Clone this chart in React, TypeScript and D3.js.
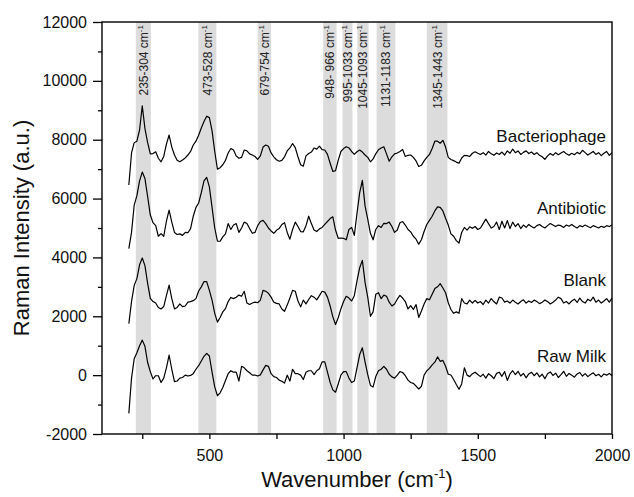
import React, { useEffect, useRef } from "react";
import * as d3 from "d3";

// wavenumber grid (cm-1), one value every 10 cm-1
const wavenumbers = d3.range(200, 2001, 10);

const bacteriophage = [
  6460, 7550, 7900, 7950, 8330, 9150, 8380, 7900, 7520, 7530,
  7590, 7370, 7250, 7430, 7850, 8160, 7750, 7480, 7300, 7250,
  7310, 7380, 7480, 7600, 7820, 7950, 8150, 8400, 8620, 8800,
  8750, 8300, 7600, 7000, 7050, 7150, 7300, 7550, 7700, 7650,
  7450, 7370, 7400, 7650, 7620, 7520, 7480, 7430, 7330, 7450,
  7750, 7820, 7780, 7550, 7420, 7320, 7270, 7300, 7420, 7620,
  7720, 7870, 7730, 7420, 7150, 7100, 7450, 7530, 7580, 7720,
  7680, 7780, 7660, 7650, 7500, 7200, 6920, 6950, 7300, 7600,
  7700, 7760, 7720, 7600, 7500, 7590, 7650, 7580, 7480, 7400,
  7250, 7350, 7520, 7660, 7720, 7760, 7520, 7270, 7420, 7520,
  7550, 7600, 7670, 7430, 7470, 7480, 7400, 7280, 7090, 7130,
  7280, 7400, 7500, 7700, 7950, 7950, 7880, 7980, 7750, 7400,
  7330, 7290, 7240, 7200, 7380, 7470, 7460, 7430, 7540, 7590,
  7540, 7500, 7560, 7480, 7600, 7520, 7470, 7550, 7500, 7580,
  7480, 7620, 7540, 7680, 7560, 7620, 7500, 7570, 7620, 7530,
  7580, 7500, 7560, 7470, 7420, 7330, 7450, 7530, 7470, 7560,
  7490, 7550, 7600, 7520, 7470, 7540, 7490, 7570, 7520, 7640,
  7560, 7480, 7540, 7600, 7500, 7560, 7460, 7540, 7600, 7470,
  7560,
];

const antibiotic = [
  4300, 4850, 5780, 6100, 6600, 6900, 6680, 6070, 5440, 5180,
  5080, 4720, 4810, 4720, 5230, 5610, 5200, 4850, 4780, 4800,
  4750, 4850, 4840, 4980, 5400, 5700, 5850, 6200, 6600, 6720,
  6400, 5700, 5000, 4550, 4550, 4700, 4800, 5150, 4950, 5100,
  5150, 4850, 5000, 5200, 5150, 4980, 4820, 4850, 5080, 5220,
  5260, 5150, 5000, 4900, 4820, 4920, 4980, 5120, 5180, 4850,
  4620, 4950, 5200, 5050, 4880, 4870, 5080, 5400, 5150, 4930,
  4880, 4970, 5020, 5120, 5220, 5320, 5380, 4930, 4650, 4660,
  4650, 4600, 4950, 5020, 4750, 5500, 6200, 6620, 5750, 5300,
  4820, 4600, 4950, 5080, 5020, 5160, 5150, 5200, 5050, 4850,
  4930, 5180, 5220, 5100, 4950, 4870, 4720, 4620, 4450, 4600,
  4880, 5120, 5260, 5400, 5580, 5720, 5700, 5580, 5330, 5100,
  4800, 4720, 4570, 4490, 4850, 5020, 4930, 5040, 4990, 5050,
  4950, 5000, 5150, 5300, 5150, 5000, 5050, 5200, 4950, 5230,
  5000, 5250, 4980, 5200, 5050, 5150, 4980, 5100, 5020, 5120,
  5050, 5000, 5080, 5120, 5050, 5000, 5080, 5150, 5100, 5050,
  5100, 5080, 5020, 5100, 5060, 5120, 5050, 5000, 5080, 5040,
  5100, 5050, 5010, 5080, 5040, 5000, 5060, 5020, 5080, 5050,
  5100,
];

const blank = [
  1750, 2500, 3050, 3280, 3750, 3980, 3720, 3120, 2610, 2500,
  2450, 2300, 2250, 2330, 2700, 3060, 2600, 2250, 2300, 2420,
  2330, 2350, 2480, 2500, 2530, 2600, 2860, 3000, 3180, 3180,
  2880, 2550, 2100, 1800, 1960, 2150, 2260, 2500, 2640, 2600,
  2650, 2720, 2680, 2850, 2450, 2400, 2450, 2480, 2460, 2550,
  2880, 2850, 2780, 2650, 2480, 2440, 2420, 2250, 2170, 2380,
  2620, 2880, 2850, 2520, 2320, 2550, 2420, 2570, 2700, 2650,
  2560, 2700, 2850, 2820, 2650, 2350, 1980, 1720, 1950, 2250,
  2500, 2680, 2620, 2520, 2700, 3200, 3650, 3900, 3150, 2650,
  2000, 2150, 2750, 2800, 2600, 2720, 2680, 2480, 2350, 2420,
  2580, 2710, 2620, 2500, 2250, 2360, 2230, 2400, 1960, 2180,
  2420, 2600, 2560, 2750, 2940, 3000, 3110, 2960, 2800, 2460,
  2230, 2100, 2150, 2100, 2600, 2450, 2420, 2550, 2450, 2540,
  2450, 2500, 2400, 2550, 2450, 2600, 2500, 2420, 2650, 2620,
  2480, 2520, 2450, 2550, 2480, 2420, 2500, 2560, 2450, 2520,
  2470, 2550, 2500, 2430, 2480, 2550, 2500, 2420, 2480, 2550,
  2650, 2600, 2450, 2500, 2420, 2520, 2580, 2470, 2620, 2500,
  2450, 2580, 2520, 2650, 2480, 2550, 2450, 2520, 2600, 2480,
  2620,
];

const rawMilk = [
  -1300, -100, 560, 760, 1000, 1190, 980, 430, 120, -130,
  -20, -20, -250, -100, 250, 680, 200, -220, -200, -100,
  -80, 0, -30, -10, 50, 200, 320, 480, 640, 740,
  650, 100, -400, -700, -600, -420, -180, 50, 150, 100,
  100, -200, 300, 250, 150, 80, 0, 5, -30, 10,
  180, 330, 300, 50, -50, -80, -170, -210, -270, 0,
  -200, 200, 50, 50, 0, -150, 100, 150, 150, 20,
  150, 220, 450, 450, 100, -250, -500, -580, -300, 0,
  120, 120, -100, -250, -200, 250, 700, 930, 450, 20,
  -350, -400, -50, 150, 200, 300, 200, 30, -60, -100,
  0, 120, 90, -20, -170, -250, -280, -370, -470, -380,
  0, 150, 230, 350, 440, 620, 470, 500, 300, 30,
  5, -150, -320, -480, -300, 250, 0, -50, 50, 100,
  20, -50, 30, -100, 50, -20, -120, 60, 100, -40,
  120, -180, 40, 150, 20, 130, -30, 60, -90, 40,
  100, -20, 80, -60, 30, -120, 50, 110, -10, 70,
  -80, 20, 130, -40, 60, 0, -70, 40, 90, -30,
  50, -50, 20, 80, -20, 30, -60, 40, 0, 60,
  -20,
];

const seriesNames = ["Bacteriophage", "Antibiotic", "Blank", "Raw Milk"];
const seriesValues = [bacteriophage, antibiotic, blank, rawMilk];

// shaded bands (cm-1) and their labels
const bandStart = [226, 459, 680, 924, 996, 1051, 1123, 1310];
const bandEnd = [282, 526, 730, 974, 1033, 1093, 1193, 1387];
const bandLabels = [
  "235-304 cm",
  "473-528 cm",
  "679-754 cm",
  "948- 966 cm",
  "995-1033 cm",
  "1045-1093 cm",
  "1131-1183 cm",
  "1345-1443 cm",
];

const yMajorTicks = [-2000, 0, 2000, 4000, 6000, 8000, 10000, 12000];
const yMinorTicks = [-1000, 1000, 3000, 5000, 7000, 9000, 11000];
const xMajorTicks = [500, 1000, 1500, 2000];
const xMinorTicks = [250, 750, 1250, 1750];

// label heights (data units) for the series names
const labelLevels = [7920, 5480, 3030, 460];

const FONT = "'Liberation Sans', Arial, Helvetica, sans-serif";

const RamanChart = () => {
  const svgRef = useRef<SVGSVGElement>(null);

  useEffect(() => {
    const width = 634;
    const height = 497;
    const margin = { top: 22, right: 22, bottom: 63, left: 102 };
    const innerWidth = width - margin.left - margin.right;
    const innerHeight = height - margin.top - margin.bottom;

    const svg = d3.select(svgRef.current);
    svg.selectAll("*").remove();
    svg.attr("width", width).attr("height", height);

    svg.append("rect").attr("width", width).attr("height", height).attr("fill", "#fff");

    const x = d3.scaleLinear().domain([100, 2000]).range([0, innerWidth]);
    const y = d3.scaleLinear().domain([-2000, 12000]).range([innerHeight, 0]);

    const g = svg
      .append("g")
      .attr("transform", `translate(${margin.left},${margin.top})`);

    // Bands
    g.selectAll(".band")
      .data(bandStart)
      .enter()
      .append("rect")
      .attr("x", (d) => x(d))
      .attr("y", 0)
      .attr("width", (d, i) => x(bandEnd[i]) - x(d))
      .attr("height", innerHeight)
      .attr("fill", "#dcdcdc");

    // Band labels
    const lbl = g
      .selectAll(".band-label")
      .data(bandLabels)
      .enter()
      .append("text")
      .attr(
        "transform",
        (d, i) =>
          `translate(${x((bandStart[i] + bandEnd[i]) / 2) + 4.5},3) rotate(-90)`
      )
      .attr("text-anchor", "end")
      .attr("font-family", FONT)
      .attr("font-size", "12px")
      .attr("fill", "#222");
    lbl.append("tspan").text((d) => d);
    lbl
      .append("tspan")
      .attr("dy", -5)
      .attr("font-size", "8px")
      .text("-1");

    // Spectra
    const line = d3
      .line<number>()
      .x((d, i) => x(wavenumbers[i]))
      .y((d) => y(d));

    seriesValues.forEach((values) => {
      g.append("path")
        .datum(values)
        .attr("fill", "none")
        .attr("stroke", "#000")
        .attr("stroke-width", 1.2)
        .attr("stroke-linejoin", "round")
        .attr("d", line);
    });

    // Series names
    g.selectAll(".series-label")
      .data(seriesNames)
      .enter()
      .append("text")
      .attr("x", innerWidth - 6)
      .attr("y", (d, i) => y(labelLevels[i]))
      .attr("text-anchor", "end")
      .attr("font-family", FONT)
      .attr("font-size", "17px")
      .attr("fill", "#111")
      .text((d) => d);

    // Axes
    const styleAxis = (sel) => {
      sel.select(".domain").remove();
      sel.selectAll("line").attr("stroke", "#000").attr("stroke-width", 1.3);
      sel
        .selectAll("text")
        .attr("font-family", FONT)
        .attr("font-size", "16px")
        .attr("fill", "#111");
    };

    g.append("g")
      .call(
        d3.axisLeft(y).tickValues(yMajorTicks).tickSize(9).tickPadding(6)
          .tickFormat((d) => String(d))
      )
      .call(styleAxis);
    g.append("g")
      .call(d3.axisLeft(y).tickValues(yMinorTicks).tickSize(4).tickFormat(() => ""))
      .call(styleAxis);

    g.append("g")
      .attr("transform", `translate(0,${innerHeight})`)
      .call(
        d3.axisBottom(x).tickValues(xMajorTicks).tickSize(5).tickPadding(11)
          .tickFormat((d) => String(d))
      )
      .call(styleAxis);
    g.append("g")
      .attr("transform", `translate(0,${innerHeight})`)
      .call(d3.axisBottom(x).tickValues(xMinorTicks).tickSize(5).tickFormat(() => ""))
      .call(styleAxis);

    // Frame
    g.append("rect")
      .attr("width", innerWidth)
      .attr("height", innerHeight)
      .attr("fill", "none")
      .attr("stroke", "#000")
      .attr("stroke-width", 1.4);

    // Y-axis title
    svg
      .append("text")
      .attr("transform", `translate(29, ${margin.top + innerHeight / 2}) rotate(-90)`)
      .attr("text-anchor", "middle")
      .attr("font-family", FONT)
      .attr("font-size", "22px")
      .attr("fill", "#111")
      .text("Raman Intensity (a.u.)");

    // X-axis title
    const xt = svg
      .append("text")
      .attr("x", margin.left + innerWidth / 2)
      .attr("y", 487)
      .attr("text-anchor", "middle")
      .attr("font-family", FONT)
      .attr("font-size", "22px")
      .attr("fill", "#111");
    xt.append("tspan").text("Wavenumber (cm");
    xt.append("tspan").attr("dy", -9).attr("font-size", "13px").text("-1");
    xt.append("tspan").attr("dy", 9).text(")");
  }, []);

  return <svg ref={svgRef} style={{ display: "block" }} />;
};

export default function App() {
  return (
    <div style={{ position: "absolute", left: 0, top: 0 }}>
      <RamanChart />
    </div>
  );
}
